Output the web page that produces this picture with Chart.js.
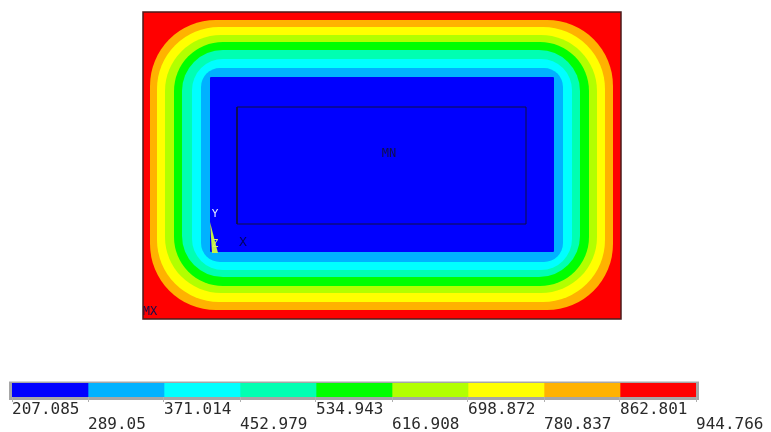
<!DOCTYPE html>
<html>
<head>
<meta charset="utf-8">
<script src="https://cdn.jsdelivr.net/npm/chart.js@4.4.0/dist/chart.umd.min.js"></script>
<style>
  html, body { margin: 0; padding: 0; background: #fff; }
  #wrap { position: relative; width: 771px; height: 432px; }
  #plot { position: absolute; left: 0; top: 0; }
  #legend { position: absolute; left: 0; top: 372px; }
</style>
</head>
<body>
<div id="wrap">
  <canvas id="plot" width="771" height="360"></canvas>
  <canvas id="legend" width="771" height="62"></canvas>
</div>
<script>
// contour levels shown in the legend, and one colour per band
const levels = [207.085, 289.05, 371.014, 452.979, 534.943, 616.908, 698.872, 780.837, 862.801, 944.766];
const bandColors = ['#0000ff', '#00b2ff', '#00ffff', '#00ffb2', '#00ff00', '#b2ff00', '#ffff00', '#ffb200', '#ff0000'];

// plate size (model units)
const plateW = 478;
const plateH = 307;

// contour lines from the outside in: value, distance from each edge, corner rounding
const contourValue = [862.801, 780.837, 698.872, 616.908, 534.943, 452.979, 371.014, 289.05];
const insetLeft    = [7, 14, 22, 31, 39, 49, 58, 67];
const insetRight   = [8, 16, 24, 32, 41, 49, 58, 67];
const insetTop     = [8, 15, 23, 30, 38, 47, 56, 65];
const insetBottom  = [9, 17, 26, 33, 42, 49, 57, 67];
const cornerR      = [66, 62, 56, 49, 41, 31, 19, 1];

// inner area outline
const areaX = [94, 383, 383, 94, 94];
const areaY = [95, 95, 212, 212, 95];

// min / max markers
const markText = ['MN', 'MX'];
const markX = [246, 7];
const markY = [165, 7];

// triad origin
const triadX = [69];
const triadY = [67];

function roundRectPath(ctx, l, t, r, b, rad) {
    rad = Math.min(rad, (r - l) / 2, (b - t) / 2);
    ctx.beginPath();
    ctx.moveTo(l + rad, t);
    ctx.arcTo(r, t, r, b, rad);
    ctx.arcTo(r, b, l, b, rad);
    ctx.arcTo(l, b, l, t, rad);
    ctx.arcTo(l, t, r, t, rad);
    ctx.closePath();
}

// filled contour bands, drawn through the chart scales
const contourPlugin = {
    id: 'contourBands',
    beforeDatasetsDraw(chart) {
        const { ctx, chartArea } = chart;
        const xs = chart.scales.x, ys = chart.scales.y;
        const unit = xs.getPixelForValue(1) - xs.getPixelForValue(0);
        ctx.save();
        ctx.fillStyle = bandColors[bandColors.length - 1];
        ctx.fillRect(chartArea.left, chartArea.top, chartArea.width, chartArea.height);
        contourValue.forEach((v, k) => {
            const l = xs.getPixelForValue(insetLeft[k]);
            const r = xs.getPixelForValue(plateW - insetRight[k]);
            const t = ys.getPixelForValue(plateH - insetTop[k]);
            const b = ys.getPixelForValue(insetBottom[k]);
            ctx.fillStyle = bandColors[levels.indexOf(v) - 1];
            roundRectPath(ctx, l, t, r, b, cornerR[k] * unit);
            ctx.fill();
        });
        ctx.restore();
    },
    afterDatasetsDraw(chart) {
        const { ctx, chartArea } = chart;
        const xs = chart.scales.x, ys = chart.scales.y;
        ctx.save();
        // triad
        const ox = xs.getPixelForValue(triadX[0]);
        const oy = ys.getPixelForValue(triadY[0]);
        ctx.fillStyle = '#c4f04a';
        ctx.beginPath();
        ctx.moveTo(ox - 2, oy - 30);
        ctx.lineTo(ox, oy + 1);
        ctx.lineTo(ox + 6, oy + 1);
        ctx.closePath();
        ctx.fill();
        ctx.font = '11px "DejaVu Sans Mono"';
        ctx.textAlign = 'center';
        ctx.textBaseline = 'middle';
        ctx.fillStyle = '#e6eeff';
        ctx.fillText('Y', ox + 3, oy - 38);
        ctx.fillStyle = '#d8f070';
        ctx.fillText('Z', ox + 3, oy - 8);
        ctx.fillStyle = '#000060';
        ctx.font = '13px "DejaVu Sans Mono"';
        ctx.fillText('X', ox + 31, oy - 9);

        // min / max labels
        ctx.font = '12px "DejaVu Sans Mono"';
        ctx.fillStyle = '#10104a';
        markText.forEach((txt, i) => {
            ctx.fillText(txt, xs.getPixelForValue(markX[i]), ys.getPixelForValue(markY[i]));
        });

        // plot frame
        ctx.strokeStyle = '#4a1c1c';
        ctx.lineWidth = 1.5;
        ctx.strokeRect(chartArea.left, chartArea.top, chartArea.width, chartArea.height);
        ctx.restore();
    }
};

new Chart(document.getElementById('plot'), {
    type: 'scatter',
    data: {
        datasets: [{
            data: areaX.map((x, i) => ({ x: x, y: areaY[i] })),
            showLine: true,
            borderColor: '#101040',
            borderWidth: 1,
            pointRadius: 0
        }]
    },
    options: {
        responsive: false,
        animation: false,
        layout: { padding: { left: 143, right: 150, top: 12, bottom: 41 } },
        scales: {
            x: { type: 'linear', min: 0, max: plateW, display: false },
            y: { type: 'linear', min: 0, max: plateH, display: false }
        },
        plugins: { legend: { display: false }, tooltip: { enabled: false } }
    },
    plugins: [contourPlugin]
});

// grey frame behind the colour bar
const barFrame = {
    id: 'barFrame',
    beforeDraw(chart) {
        const { ctx, chartArea } = chart;
        ctx.save();
        ctx.fillStyle = '#a6a6a6';
        ctx.fillRect(chartArea.left - 3, chartArea.top - 2, chartArea.width + 6, chartArea.height + 5);
        ctx.fillStyle = '#d4d4d4';
        ctx.fillRect(chartArea.left - 3, chartArea.top - 2, chartArea.width + 6, 1);
        ctx.restore();
    }
};

new Chart(document.getElementById('legend'), {
    type: 'bar',
    data: {
        labels: ['band'],
        datasets: bandColors.map((c, i) => ({
            data: [[levels[i], levels[i + 1]]],
            backgroundColor: c,
            borderWidth: 0,
            barPercentage: 1,
            categoryPercentage: 1
        }))
    },
    options: {
        indexAxis: 'y',
        grouped: false,
        responsive: false,
        animation: false,
        layout: { padding: { left: 12, right: 75, top: 11, bottom: 0 } },
        scales: {
            y: { display: false },
            x: {
                type: 'linear',
                position: 'bottom',
                min: levels[0],
                max: levels[levels.length - 1],
                afterBuildTicks(scale) { scale.ticks = levels.map(v => ({ value: v })); },
                afterFit(scale) { scale.height = 37; },
                border: { display: false },
                grid: { drawOnChartArea: false, tickLength: 5, color: '#b0b0b0' },
                ticks: {
                    align: 'start',
                    padding: 0,
                    autoSkip: false,
                    maxRotation: 0,
                    color: '#2a2a2a',
                    font: { family: 'DejaVu Sans Mono', size: 16, lineHeight: '15px' },
                    callback: (value, index) => index % 2 === 0 ? [String(levels[index]), ''] : ['', String(levels[index])]
                }
            }
        },
        plugins: { legend: { display: false }, tooltip: { enabled: false } }
    },
    plugins: [barFrame]
});
</script>
</body>
</html>
